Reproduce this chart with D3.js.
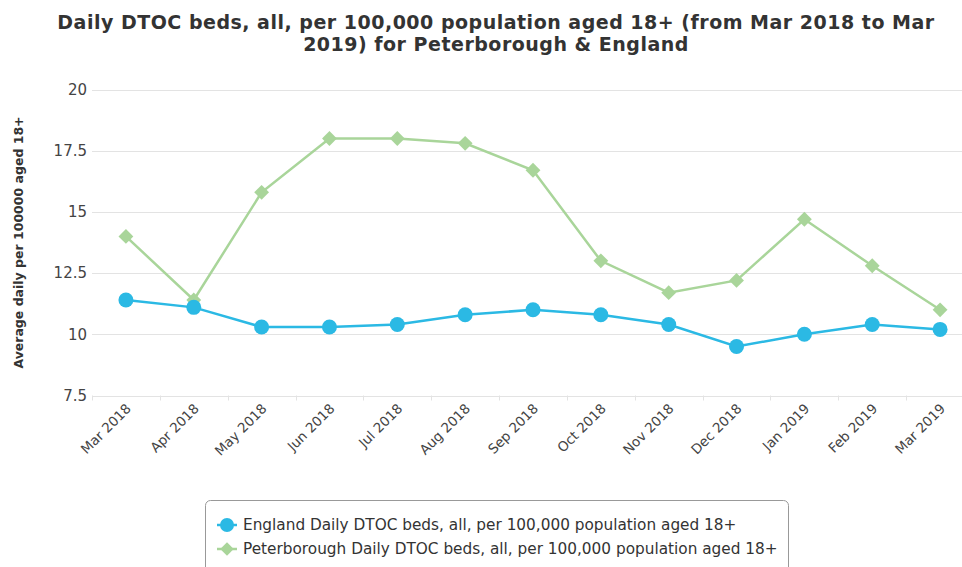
<!DOCTYPE html>
<html>
<head>
<meta charset="utf-8">
<script src="https://cdn.jsdelivr.net/npm/d3@7"></script>
<style>
  html, body { margin: 0; padding: 0; background: #fff; }
  svg { display: block; font-family: "DejaVu Sans", Verdana, sans-serif; }
</style>
</head>
<body>
<svg id="chart" width="962" height="567"></svg>
<script>
// Months shown along the x axis
const months = ["Mar 2018", "Apr 2018", "May 2018", "Jun 2018", "Jul 2018", "Aug 2018",
  "Sep 2018", "Oct 2018", "Nov 2018", "Dec 2018", "Jan 2019", "Feb 2019", "Mar 2019"];

// Average daily delayed-transfer-of-care beds per 100,000 population aged 18+
const englandValues = [11.4, 11.1, 10.3, 10.3, 10.4, 10.8, 11.0, 10.8, 10.4, 9.5, 10.0, 10.4, 10.2];
const peterboroughValues = [14.0, 11.4, 15.8, 18.0, 18.0, 17.8, 16.7, 13.0, 11.7, 12.2, 14.7, 12.8, 11.0];

// Y axis ticks
const yTicks = [7.5, 10, 12.5, 15, 17.5, 20];

const seriesNames = [
  "England Daily DTOC beds, all, per 100,000 population aged 18+",
  "Peterborough Daily DTOC beds, all, per 100,000 population aged 18+"
];

const colors = { england: "#2bb9e4", peterborough: "#a9d59a" };

const svg = d3.select("#chart");
const plot = { left: 92, right: 974, top: 89.5, bottom: 395.5 };

const x = d3.scalePoint().domain(months).range([plot.left, plot.right]).padding(0.5);
const y = d3.scaleLinear().domain([7.5, 20]).range([plot.bottom, plot.top]);

// Title (two lines)
const titleLines = [
  "Daily DTOC beds, all, per 100,000 population aged 18+ (from Mar 2018 to Mar",
  "2019) for Peterborough & England"
];
svg.append("g").selectAll("text").data(titleLines).join("text")
  .attr("x", 496).attr("y", (d, i) => 29 + i * 22)
  .attr("text-anchor", "middle")
  .style("font-size", "19px").style("font-weight", "bold").style("fill", "#333")
  .style("letter-spacing", "0.5px")
  .text(d => d);

// Horizontal grid lines
svg.append("g").selectAll("line").data(yTicks).join("line")
  .attr("x1", plot.left).attr("x2", plot.right)
  .attr("y1", d => Math.round(y(d)) + 0.5).attr("y2", d => Math.round(y(d)) + 0.5)
  .attr("stroke", "#e3e3e3").attr("stroke-width", 1);

// Y axis tick labels
const yAxis = d3.axisLeft(y).tickValues(yTicks).tickSize(0).tickPadding(5)
  .tickFormat(d => String(d));
svg.append("g").attr("transform", `translate(${plot.left},0)`).call(yAxis)
  .call(g => g.select(".domain").remove())
  .call(g => g.selectAll("text")
    .style("font-size", "15px").style("fill", "#444")
    .style("font-family", "DejaVu Sans, sans-serif"));

// Y axis title
svg.append("text")
  .attr("transform", `translate(23,${(plot.top + plot.bottom) / 2}) rotate(-90)`)
  .attr("text-anchor", "middle")
  .style("font-size", "12.5px").style("font-weight", "bold").style("fill", "#333")
  .text("Average daily per 100000 aged 18+");

// X axis: tick marks between categories and rotated month labels
const step = x.step();
svg.append("g").selectAll("line").data(d3.range(months.length + 1)).join("line")
  .attr("x1", i => Math.round(plot.left + i * step) + 0.5)
  .attr("x2", i => Math.round(plot.left + i * step) + 0.5)
  .attr("y1", plot.bottom).attr("y2", plot.bottom + 5)
  .attr("stroke", "#e3e3e3");

svg.append("g").selectAll("text").data(months).join("text")
  .attr("transform", d => `translate(${x(d) + 6},${plot.bottom + 14}) rotate(-45)`)
  .attr("text-anchor", "end")
  .style("font-size", "13.5px").style("fill", "#444")
  .text(d => d);

// Series lines and markers
const line = d3.line().x((d, i) => x(months[i])).y(d => y(d));

svg.append("path").datum(peterboroughValues)
  .attr("d", line).attr("fill", "none")
  .attr("stroke", colors.peterborough).attr("stroke-width", 2.5);

svg.append("path").datum(englandValues)
  .attr("d", line).attr("fill", "none")
  .attr("stroke", colors.england).attr("stroke-width", 2.5);

const diamond = d3.symbol().type(d3.symbolSquare).size(110);

svg.append("g").selectAll("path").data(peterboroughValues).join("path")
  .attr("d", diamond)
  .attr("transform", (d, i) => `translate(${x(months[i])},${y(d)}) rotate(45)`)
  .attr("fill", colors.peterborough);

svg.append("g").selectAll("circle").data(englandValues).join("circle")
  .attr("cx", (d, i) => x(months[i])).attr("cy", d => y(d))
  .attr("r", 7.5).attr("fill", colors.england);

// Legend
const legend = svg.append("g");
legend.append("rect")
  .attr("x", 205.5).attr("y", 500.5).attr("width", 583).attr("height", 90)
  .attr("rx", 5).attr("fill", "#fff").attr("stroke", "#999");

const legendRows = [
  { name: seriesNames[0], color: colors.england, shape: "circle" },
  { name: seriesNames[1], color: colors.peterborough, shape: "diamond" }
];

legendRows.forEach((row, i) => {
  const cy = 525 + i * 24;
  const g = legend.append("g");
  g.append("line").attr("x1", 217).attr("x2", 237).attr("y1", cy).attr("y2", cy)
    .attr("stroke", row.color).attr("stroke-width", 2.5);
  if (row.shape === "circle") {
    g.append("circle").attr("cx", 227).attr("cy", cy).attr("r", 7).attr("fill", row.color);
  } else {
    g.append("path").attr("d", d3.symbol().type(d3.symbolSquare).size(90))
      .attr("transform", `translate(227,${cy}) rotate(45)`).attr("fill", row.color);
  }
  g.append("text").attr("x", 243).attr("y", cy + 5)
    .style("font-size", "15.3px").style("fill", "#333")
    .text(row.name);
});
</script>
</body>
</html>
